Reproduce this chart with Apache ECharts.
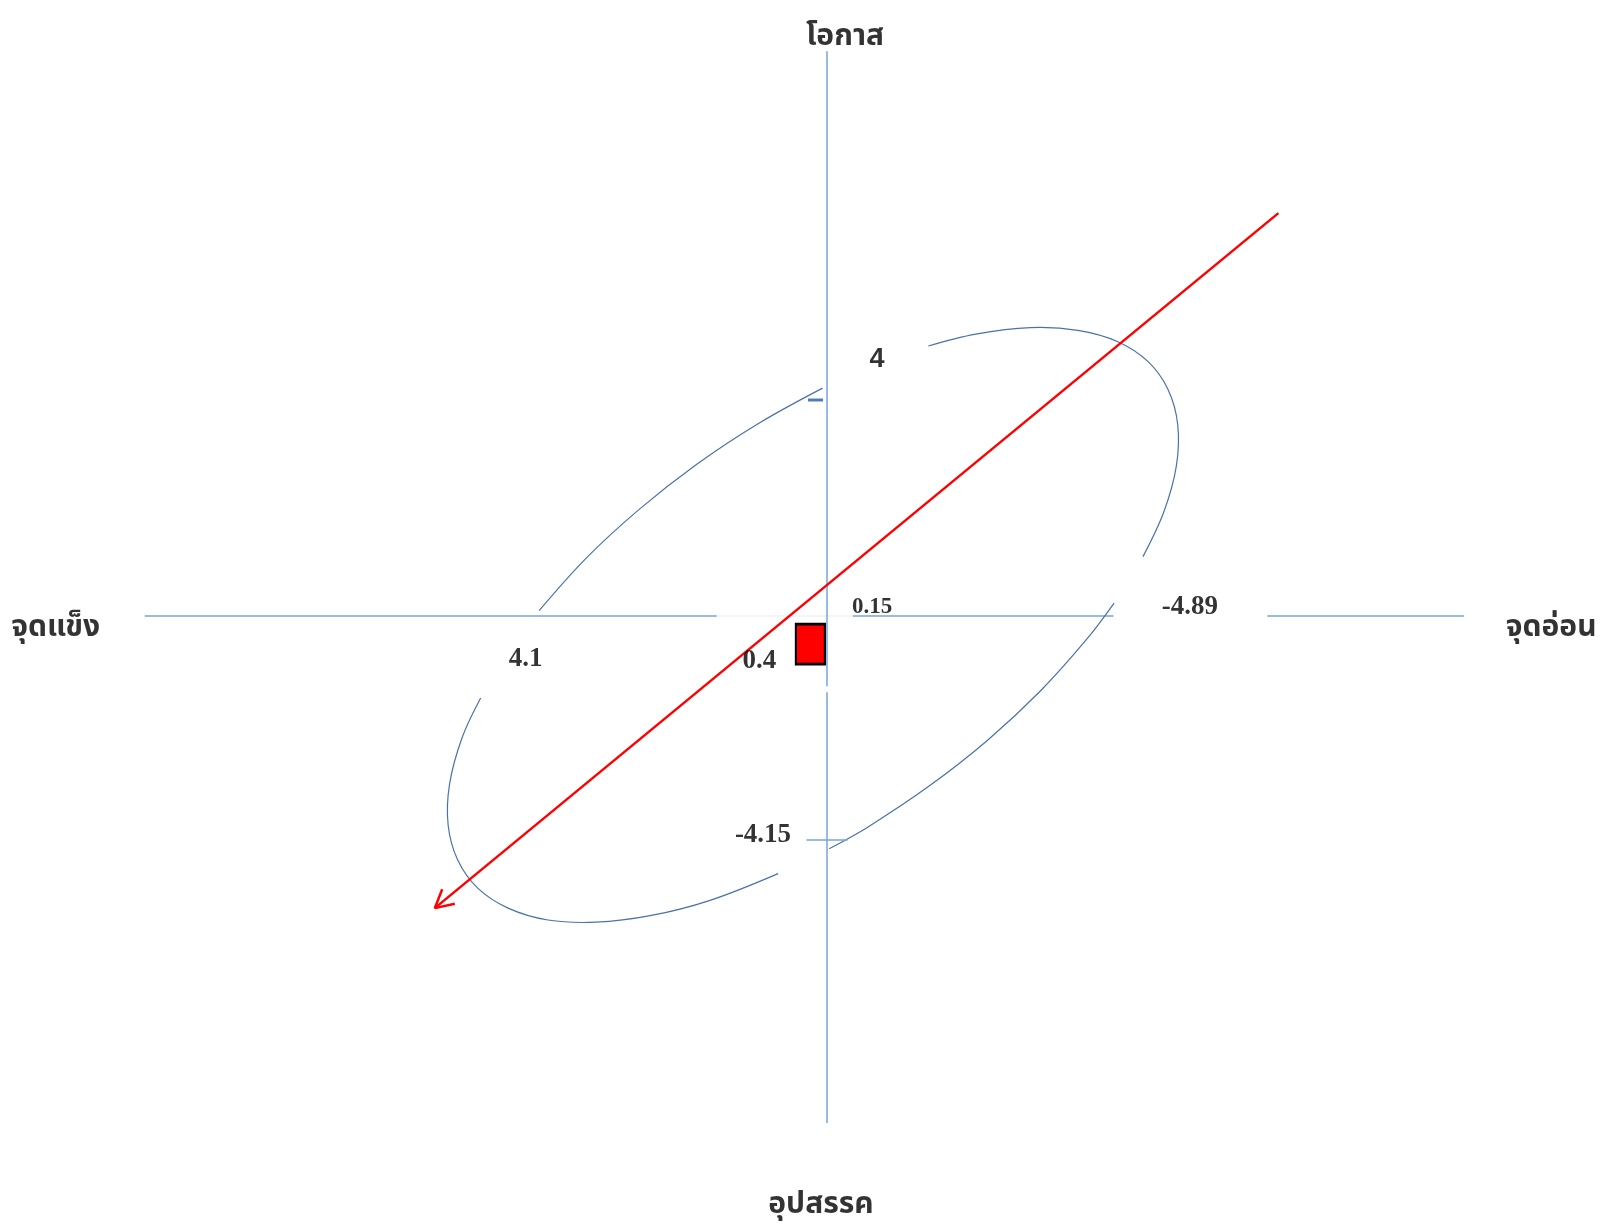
<!DOCTYPE html>
<html><head><meta charset="utf-8">
<script src="https://cdn.jsdelivr.net/npm/echarts@6/dist/echarts.min.js"></script>
<style>html,body{margin:0;padding:0;background:#fff}#c{width:1605px;height:1229px}</style>
</head><body><div id="c"></div>
<script>
// Axis names: strength (left), weakness (right), opportunity (top), threat (bottom)
const axisNames = ['จุดแข็ง', 'จุดอ่อน', 'โอกาส', 'อุปสรรค'];
// Scores: strength, weakness, opportunity, threat
const axisScores = [4.1, -4.89, 4, -4.15];
// Net position and its labels
const netPosition = [0.4, -0.15];
const netLabels = ['0.4', '0.15'];
// Cross axes (data units): horizontal pieces [xFrom, xTo], vertical pieces [yFrom, yTo]
const hAxisPieces = [[9.22, 1.49], [-0.35, -3.87], [-5.95, -8.61]];
const hAxisFaintPieces = [[1.49, -0.35]];
const vAxisPieces = [[10.46, -1.30], [-1.41, -9.39]];
// Ellipse arcs (data units)
const arcUpperLeft = [[3.89, 0.10], [3.27, 1.05], [2.55, 1.96], [1.76, 2.81], [0.92, 3.57], [0.06, 4.22]];
const arcUpperRight = [[-1.37, 5.00], [-2.01, 5.22], [-2.75, 5.34], [-3.39, 5.29], [-3.93, 5.08], [-4.34, 4.71], [-4.61, 4.19], [-4.74, 3.54], [-4.72, 2.77], [-4.55, 1.92], [-4.27, 1.10]];
const arcLowerRight = [[-3.88, 0.24], [-3.51, -0.43], [-2.89, -1.38], [-2.17, -2.30], [-1.38, -3.15], [-0.55, -3.91], [-0.03, -4.31]];
const arcLowerLeft = [[0.66, -4.77], [1.59, -5.27], [2.39, -5.55], [3.12, -5.67], [3.77, -5.63], [4.31, -5.41], [4.72, -5.04], [4.99, -4.52], [5.12, -3.87], [5.10, -3.11], [4.93, -2.25], [4.68, -1.52]];
// Strategy arrow: from, to; and the two arms of its open head
const strategyArrow = [[-6.10, 7.46], [5.30, -5.41]];
const arrowHeadArms = [[5.20, -5.06], [5.03, -5.33]];

const AXIS_BLUE = '#74a5dc';
const ELLIPSE_BLUE = '#4a72aa';
const RED = '#ff0000';
const THAI_FONT = "'Noto Sans Thai', 'Noto Sans Thai UI', Tahoma, Loma, Garuda, 'Noto Sans', sans-serif";
const NUM_FONT = "'Liberation Serif', 'Times New Roman', serif";

const series = [];
function seg(data, color, width, z) {
  return {type: 'line', data: data, showSymbol: false, silent: true,
    lineStyle: {color: color, width: width}, z: z};
}
// smooth curve through the read points, placed with the axes' own scales (api.coord)
function arc(points) {
  return {type: 'custom', silent: true, z: 3, data: points, clip: false,
    renderItem: function (params, api) {
      if (params.dataIndex !== 0) return null;
      return {type: 'polyline', shape: {points: points.map(p => api.coord(p)), smooth: 0.35},
        style: {stroke: ELLIPSE_BLUE, lineWidth: 1.2, fill: null}};
    }};
}
hAxisPieces.forEach(p => series.push(seg([[p[0], 0], [p[1], 0]], AXIS_BLUE, 1.5, 2)));
hAxisFaintPieces.forEach(p => series.push(seg([[p[0], 0], [p[1], 0]], '#eef2f8', 1.5, 1)));
vAxisPieces.forEach(p => series.push(seg([[0, p[0]], [0, p[1]]], AXIS_BLUE, 1.5, 2)));
[arcUpperLeft, arcUpperRight, arcLowerRight, arcLowerLeft].forEach(a => series.push(arc(a)));

// tick marks for opportunity and threat
series.push({type: 'scatter', silent: true, z: 4, data: [
  {value: [0, axisScores[2]], symbol: 'rect', symbolSize: [15, 3], symbolOffset: [-11.5, 0], itemStyle: {color: '#4f7cb8', opacity: 1}},
  {value: [0, axisScores[3]], symbol: 'rect', symbolSize: [41, 1.5], symbolOffset: [0, 0], itemStyle: {color: AXIS_BLUE, opacity: 1}}
]});

// strategy arrow with open head
series.push(seg(strategyArrow, RED, 2.5, 5));
series.push(seg([arrowHeadArms[0], strategyArrow[1], arrowHeadArms[1]], RED, 2.5, 5));

// net position square
series.push({type: 'scatter', silent: true, z: 6, data: [
  {value: netPosition, symbol: 'rect', symbolSize: [29, 40], symbolOffset: [13, 20], itemStyle: {color: RED, borderColor: '#000', borderWidth: 2.5, opacity: 1}}
]});

// text labels
function lab(value, text, offset, font, size) {
  return {value: value, symbol: 'circle', symbolSize: 1, itemStyle: {color: 'rgba(0,0,0,0)'},
    label: {show: true, position: 'inside', formatter: text, offset: offset, fontFamily: font, fontSize: size, fontWeight: 'bold', color: '#000', align: 'center', verticalAlign: 'middle'}};
}
series.push({type: 'scatter', silent: true, z: 10, data: [
  lab([axisScores[0], 0], String(axisScores[0]), [2, 43], NUM_FONT, 27),
  lab([axisScores[1], 0], String(axisScores[1]), [1, -9], NUM_FONT, 27),
  lab([0, axisScores[2]], String(axisScores[2]), [50, -40], "'Liberation Sans', Arial, sans-serif", 27),
  lab([0, axisScores[3]], String(axisScores[3]), [-64, -5], NUM_FONT, 27),
  lab([0, 0], netLabels[1], [45, -9], NUM_FONT, 23),
  lab([netPosition[0], 0], netLabels[0], [-38, 45], NUM_FONT, 27),
  lab([hAxisPieces[0][0], 0], axisNames[0], [-89, 14], THAI_FONT, 30),
  lab([hAxisPieces[2][1], 0], axisNames[1], [87, 14], THAI_FONT, 30),
  lab([0, vAxisPieces[0][0]], axisNames[2], [18, -12], THAI_FONT, 30),
  lab([0, vAxisPieces[1][1]], axisNames[3], [-6, 84], THAI_FONT, 30)
]});

const chart = echarts.init(document.getElementById('c'));
chart.setOption({
  animation: false,
  backgroundColor: '#fff',
  grid: {left: 13, top: 22, width: 1591, height: 1188},
  xAxis: {type: 'value', min: -10.5, max: 11, inverse: true, show: false},
  yAxis: {type: 'value', min: -11, max: 11, show: false},
  series: series
});
</script></body></html>
